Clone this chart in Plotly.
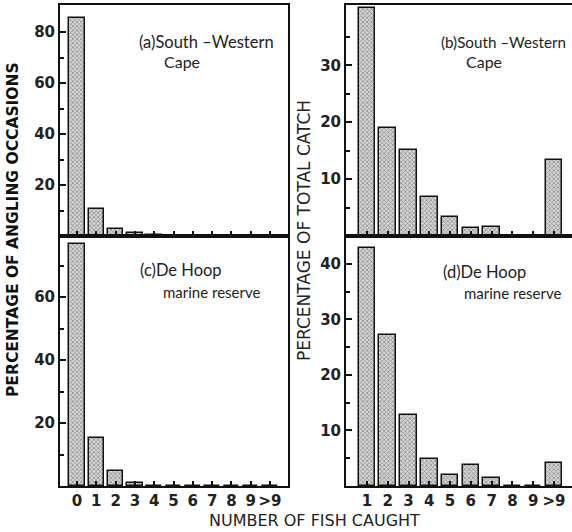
import plotly.graph_objects as go

# ---- data ----
occ_categories = ["0", "1", "2", "3", "4", "5", "6", "7", "8", "9", ">9"]
catch_categories = ["1", "2", "3", "4", "5", "6", "7", "8", "9", ">9"]

occ_swcape = [85.5, 10.5, 2.8, 1.0, 0.4, 0, 0, 0, 0, 0, 0]
occ_dehoop = [77.0, 15.3, 4.8, 0.8, 0, 0, 0, 0, 0, 0, 0]
catch_swcape = [40.0, 19.0, 15.1, 6.9, 3.3, 1.4, 1.6, 0, 0, 13.3]
catch_dehoop = [42.8, 27.2, 12.8, 4.9, 2.0, 3.7, 1.4, 0, 0, 4.1]

W, H = 572, 532
FONT = "Lato"
TFONT = "DejaVu Sans"

fig = go.Figure()

def bar(vals, xa, ya):
    return go.Bar(
        x=list(range(len(vals))), y=vals, xaxis=xa, yaxis=ya, width=0.8,
        marker=dict(color="#d6d6d6", line=dict(color="#111", width=1.5),
                    pattern=dict(shape="x", size=3, solidity=0.45, fgcolor="#444", bgcolor="#d6d6d6")),
        showlegend=False, hoverinfo="skip")

fig.add_trace(bar(occ_swcape, "x", "y"))
fig.add_trace(bar(catch_swcape, "x2", "y2"))
fig.add_trace(bar(occ_dehoop, "x3", "y3"))
fig.add_trace(bar(catch_dehoop, "x4", "y4"))

def px_x(a, b):
    return [a / W, b / W]

def px_y(top, bottom):
    return [(H - bottom) / H, (H - top) / H]

left_dom = px_x(60, 288)
right_dom = px_x(346, 572)
top_dom = px_y(5, 236)
bot_dom = px_y(236, 486)

tickfont = dict(family=TFONT, size=15, color="#222", weight="bold")

def xax(dom, anchor, cats, rng, labels):
    return dict(domain=dom, anchor=anchor, range=rng, showgrid=False, zeroline=False,
                showline=True, linecolor="#111", linewidth=2, mirror=True,
                ticks="inside", ticklen=5, tickwidth=1.5, tickcolor="#111",
                tickvals=list(range(len(cats))), ticktext=cats if labels else [""] * len(cats),
                showticklabels=labels, tickfont=tickfont, automargin=False)

def yax(dom, anchor, rng, major, minor, mirror):
    return dict(domain=dom, anchor=anchor, range=rng, showgrid=False, zeroline=False,
                showline=True, linecolor="#111", linewidth=2, mirror=mirror,
                ticks="inside", ticklen=6, tickwidth=1.5, tickcolor="#111",
                tickvals=major, ticktext=[str(v) for v in major],
                minor=dict(tickvals=minor, ticks="inside", ticklen=4, tickwidth=1.5, tickcolor="#111"),
                tickfont=tickfont, automargin=False)

left_rng = [-0.88, 10.93]
right_rng = [-1.01, 9.87]

fig.update_layout(
    width=W, height=H, margin=dict(l=0, r=0, t=0, b=0),
    plot_bgcolor="white", paper_bgcolor="white", bargap=0,
    xaxis=xax(left_dom, "y", occ_categories, left_rng, False),
    yaxis=yax(top_dom, "x", [0, 90.6], [20, 40, 60, 80], [10, 30, 50, 70], True),
    xaxis2=xax(right_dom, "y2", catch_categories, right_rng, False),
    yaxis2=yax(top_dom, "x2", [0, 40.6], [10, 20, 30], [5, 15, 25, 35], False),
    xaxis3=xax(left_dom, "y3", occ_categories, left_rng, True),
    yaxis3=yax(bot_dom, "x3", [0, 79.4], [20, 40, 60], [10, 30, 50, 70], True),
    xaxis4=xax(right_dom, "y4", catch_categories, right_rng, True),
    yaxis4=yax(bot_dom, "x4", [0, 45], [10, 20, 30, 40], [5, 15, 25, 35], False),
)

def note(text, x, y, size, xanchor="left"):
    fig.add_annotation(text=text, x=x / W, y=(H - y) / H, xref="paper", yref="paper",
                       xanchor=xanchor, yanchor="middle", showarrow=False,
                       font=dict(family=FONT, size=size, color="#222"))

note("(a)South –Western", 137, 42, 16.5)
note("Cape", 162, 62, 16)
note("(b)South –Western", 439, 42, 15.2)
note("Cape", 464, 62, 16)
note("(c)De Hoop", 138, 270, 16.5)
note("marine reserve", 161, 292, 15)
note("(d)De Hoop", 441, 272, 16.5)
note("marine reserve", 462, 293, 15)

fig.add_annotation(text="PERCENTAGE OF ANGLING OCCASIONS", x=13 / W, y=(H - 230) / H,
                   xref="paper", yref="paper", showarrow=False, textangle=-90,
                   xanchor="center", yanchor="middle",
                   font=dict(family=TFONT, size=15.5, color="#111", weight="bold"))
fig.add_annotation(text="PERCENTAGE OF TOTAL CATCH", x=304 / W, y=(H - 231) / H,
                   xref="paper", yref="paper", showarrow=False, textangle=-90,
                   xanchor="center", yanchor="middle",
                   font=dict(family=TFONT, size=17, color="#222"))
fig.add_annotation(text="NUMBER OF FISH CAUGHT", x=314 / W, y=(H - 520) / H,
                   xref="paper", yref="paper", showarrow=False,
                   xanchor="center", yanchor="middle",
                   font=dict(family=TFONT, size=16, color="#222"))

fig.write_html("out.html", post_script="document.body.style.margin='0';",
               config={"displayModeBar": False})
